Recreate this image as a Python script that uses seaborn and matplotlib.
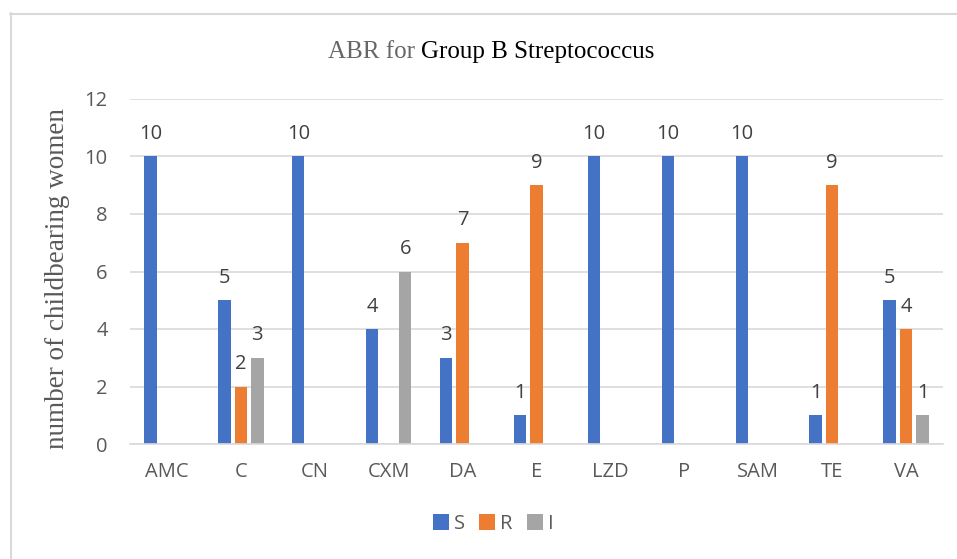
import matplotlib
matplotlib.use("Agg")
import matplotlib.pyplot as plt
from matplotlib.lines import Line2D
from matplotlib.patches import Patch
import seaborn as sns
import pandas as pd

# Antibiotic codes and susceptibility counts
antibiotics = ["AMC", "C", "CN", "CXM", "DA", "E", "LZD", "P", "SAM", "TE", "VA"]
susceptible = [10, 5, 10, 4, 3, 1, 10, 10, 10, 1, 5]
resistant = [0, 2, 0, 0, 7, 9, 0, 0, 0, 9, 4]
intermediate = [0, 3, 0, 6, 0, 0, 0, 0, 0, 0, 1]
categories = ["S", "R", "I"]
colors = ["#4472C4", "#ED7D31", "#A5A5A5"]
y_ticks = [0, 2, 4, 6, 8, 10, 12]

rows = []
for cat, vals in zip(categories, [susceptible, resistant, intermediate]):
    for ab, v in zip(antibiotics, vals):
        rows.append({"antibiotic": ab, "result": cat, "count": v})
df = pd.DataFrame(rows)

sns.set_theme(style="white")
sans = ["Open Sans", "DejaVu Sans"]
serif = ["Liberation Serif", "DejaVu Serif"]
plt.rcParams["font.family"] = sans

W, H = 957, 559
fig = plt.figure(figsize=(W / 100, H / 100), dpi=100)
ax = fig.add_axes([130 / W, 1 - 444 / H, (943 - 130) / W, (444 - 99) / H])

sns.barplot(data=df, x="antibiotic", y="count", hue="result",
            order=antibiotics, hue_order=categories, palette=colors,
            width=0.67, gap=0.25, ax=ax, legend=False, saturation=1,
            linewidth=0, edgecolor="none")

ax.set_ylim(0, 12)
ax.set_xlim(-0.5, len(antibiotics) - 0.5)
ax.set_yticks(y_ticks)
ax.yaxis.grid(True, color="#D9D9D9", linewidth=1.2)
ax.set_axisbelow(True)
for s in ["top", "right", "left"]:
    ax.spines[s].set_visible(False)
ax.spines["bottom"].set_color("#D9D9D9")
ax.spines["bottom"].set_linewidth(1.2)
ax.tick_params(axis="both", length=0, labelsize=14.5, labelcolor="#595959")
ax.tick_params(axis="y", pad=16)
ax.tick_params(axis="x", pad=13)
ax.set_xlabel("")
ax.set_ylabel("number of childbearing women", family=serif, fontsize=19.5,
              color="#595959")
ax.yaxis.set_label_coords((70 - 130) / 813, (444 - 279) / 345)

for cont, vals in zip(ax.containers, [susceptible, resistant, intermediate]):
    ax.bar_label(cont, labels=[str(v) if v else "" for v in vals],
                 padding=9, fontsize=14.5, color="#404040")

# Title with two colours
fig.canvas.draw()
r = fig.canvas.get_renderer()
t1 = fig.text(0, 0, "ABR for ", family=serif, fontsize=18, color="#666666")
t2 = fig.text(0, 0, "Group B Streptococcus", family=serif, fontsize=18, color="black")
w1 = t1.get_window_extent(r).width
w2 = t2.get_window_extent(r).width
cx, cy = 491, 1 - 52 / H
x0 = cx - (w1 + w2) / 2
t1.set_position((x0 / W, cy)); t1.set_va("center")
t2.set_position(((x0 + w1) / W, cy)); t2.set_va("center")

handles = [Patch(facecolor=c, edgecolor="none") for c in colors]
fig.legend(handles, categories, loc="center", bbox_to_anchor=(493 / W, 1 - 524 / H),
           ncol=3, frameon=False, fontsize=14.5, handlelength=0.8, handleheight=0.8,
           handletextpad=0.25, columnspacing=0.7, labelcolor="#595959")

# chart area border
fig.add_artist(Line2D([10.5 / W, 10.5 / W], [1 - 13 / H, 0], color="#D9D9D9", lw=1.5))
fig.add_artist(Line2D([10 / W, 1], [1 - 13.5 / H, 1 - 13.5 / H], color="#D9D9D9", lw=1.5))

fig.savefig("out.png", dpi=100)
